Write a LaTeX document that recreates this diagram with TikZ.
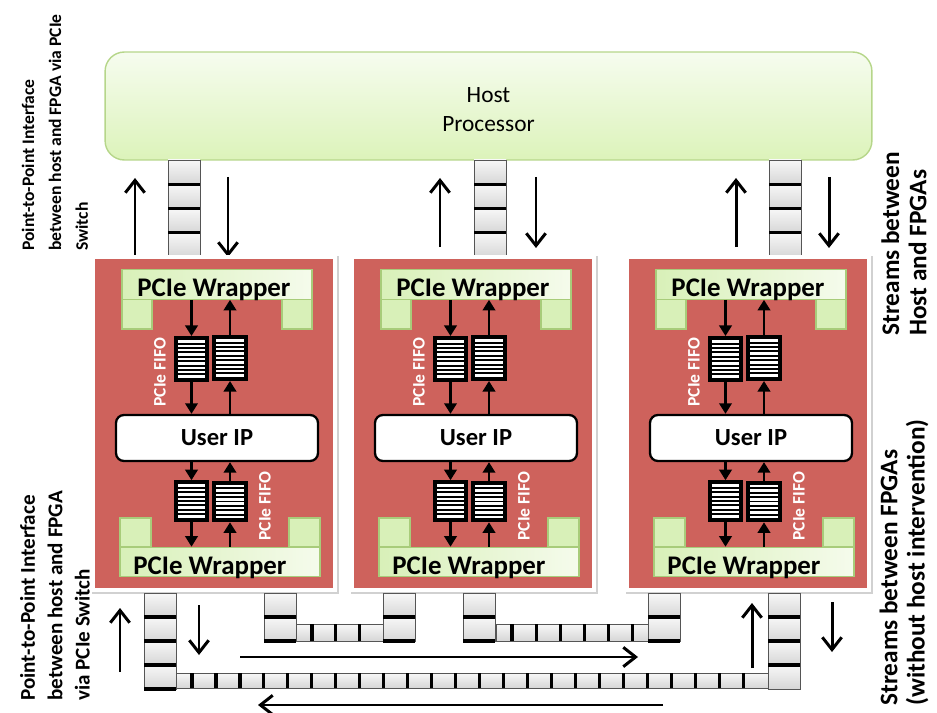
\documentclass[tikz,border=0pt]{standalone}
\usepackage{fontspec}
\setmainfont{Carlito}
\usetikzlibrary{arrows.meta}

\definecolor{fpgared}{RGB}{206,98,92}
\definecolor{hosttop}{RGB}{246,252,239}
\definecolor{hostbot}{RGB}{220,243,186}
\definecolor{hostline}{RGB}{182,214,138}
\definecolor{wraplite}{RGB}{245,251,236}
\definecolor{wrapgreen}{RGB}{216,240,184}
\definecolor{wrapline}{RGB}{168,204,122}
\definecolor{cellline}{RGB}{85,85,85}

\tikzset{
  hostbox/.style={draw=hostline, line width=0.8pt, top color=hosttop, bottom color=hostbot,
    rounded corners=11pt, minimum width=15.34cm, minimum height=2.16cm},
  hosttxt/.style={align=center, inner sep=0pt, font=\fontsize{13.3}{16.4}\selectfont},
  fpgabox/.style={fill=fpgared, draw=white, line width=2pt, minimum width=4.84cm,
    minimum height=6.66cm, inner sep=0pt},
  wrapbar/.style={draw=wrapline, line width=0.6pt, left color=wrapgreen, right color=wraplite,
    minimum height=0.59cm, inner sep=0pt},
  wrapleg/.style={draw=wrapline, line width=0.6pt, fill=wrapgreen},
  wraptxt/.style={font=\bfseries\fontsize{15.3}{18}\selectfont, inner sep=0pt},
  userip/.style={draw=black, line width=1.3pt, fill=white, rounded corners=4.5pt,
    minimum width=4.04cm, minimum height=0.92cm, font=\bfseries\fontsize{14}{16}\selectfont},
  fifo/.style={draw=black, fill=black, line width=1.1pt, minimum width=0.67cm,
    minimum height=(#1+1)*0.088cm, inner sep=0pt,
    path picture={\foreach \k in {1,...,#1}
      \draw[white, line width=1.4pt]
        ([xshift=0.06cm, yshift=-\k*0.088cm]path picture bounding box.north west) --
        ([xshift=-0.06cm, yshift=-\k*0.088cm]path picture bounding box.north east);}},
  fifotxt/.style={rotate=90, text=white, inner sep=0pt, font=\bfseries\fontsize{10}{12}\selectfont},
  cell/.style={draw=cellline, line width=0.5pt, top color=gray!6, bottom color=gray!32},
  qbar/.style={line width=1.8pt, line cap=butt},
  inarr/.style={line width=1.5pt, -{Triangle[length=6pt, width=7pt]}},
  outarr/.style={line width=1.7pt, -{Straight Barb[length=7pt, width=11pt]}},
  sidetxt/.style={rotate=90, anchor=west, align=left, inner sep=0pt}
}

\begin{document}
\begin{tikzpicture}[x=0.02cm, y=-0.02cm]
\useasboundingbox (0,0) rectangle (937,713);

% host
\node[hostbox] (host) at (488.5,106) {};
\node[hosttxt] (hostlbl) at (488.5,109.5) {Host\\Processor};

% host <-> FPGA streams
\foreach \qx in {168,474,769} {
  \foreach \k in {0,...,3} \draw[cell] (\qx,160+\k*24.25) rectangle ++(32,24.25);
  \foreach \k in {1,2,3} \draw[qbar] (\qx,160+\k*24.25) -- ++(32,0);
}
\draw[outarr] (135,257) -- (135,178);
\draw[outarr] (228,177) -- (228,257);
\draw[outarr] (440,247) -- (440,178);
\draw[outarr] (536,177) -- (536,248);
\draw[outarr] (736,247) -- (736,178);
\draw[outarr] (829,177) -- (829,248);

% FPGAs
\foreach \i/\L in {1/93,2/352,3/627} {
  \fill[black!18] (\L-1,256) rectangle (\L+245.5,593.5);
  \node[fpgabox] (fpga\i) at (\L+121,423.5) {};
  % top wrapper
  \draw[wrapleg] (\L+29,299) rectangle (\L+59,329);
  \draw[wrapleg] (\L+189,299) rectangle (\L+219,329);
  \node[wrapbar, minimum width=3.8cm] (wrapT\i) at (\L+124,284.5) {};
  \node[wraptxt] (wrapTtxt\i) at (\L+121,290) {PCIe Wrapper};
  % bottom wrapper
  \draw[wrapleg] (\L+27,518) rectangle (\L+58,547);
  \draw[wrapleg] (\L+196,518) rectangle (\L+227,547);
  \node[wrapbar, minimum width=4cm] (wrapB\i) at (\L+127,562) {};
  \node[wraptxt] (wrapBtxt\i) at (\L+117,568) {PCIe Wrapper};
  % user logic and fifos
  \node[userip] (uip\i) at (\L+124,438) {User IP};
  \node[fifo=9] (fifoTA\i) at (\L+98.5,359) {};
  \node[fifo=9] (fifoTB\i) at (\L+137,358) {};
  \node[fifo=8] (fifoBA\i) at (\L+98.5,501) {};
  \node[fifo=8] (fifoBB\i) at (\L+137,501.5) {};
  \node[fifotxt] (fifoTtxt\i) at (\L+67,372) {PCIe FIFO};
  \node[fifotxt] (fifoBtxt\i) at (\L+172,506) {PCIe FIFO};
  \draw[inarr] (wrapT\i.south -| fifoTA\i) -- (fifoTA\i.north);
  \draw[inarr] (fifoTA\i.south) -- (fifoTA\i.south |- uip\i.north);
  \draw[inarr] (fifoTB\i.south |- uip\i.north) -- (fifoTB\i.south);
  \draw[inarr] (fifoTB\i.north) -- (fifoTB\i.north |- wrapT\i.south);
  \draw[inarr] (uip\i.south -| fifoBA\i) -- (fifoBA\i.north);
  \draw[inarr] (fifoBA\i.south) -- (fifoBA\i.south |- wrapB\i.north);
  \draw[inarr] (wrapB\i.north -| fifoBB\i) -- (fifoBB\i.south);
  \draw[inarr] (fifoBB\i.north) -- (fifoBB\i.north |- uip\i.south);
}

% FPGA <-> FPGA streams
\draw[cell] (176,673) rectangle (768,688);
\foreach \k in {0,...,23} \draw[qbar] (192+\k*23.96,673) -- ++(0,15);
\draw[cell] (295,624) rectangle (383,641);
\foreach \k in {0,1,2} \draw[qbar] (312+\k*23.7,624) -- ++(0,17);
\draw[cell] (496,624) rectangle (648,641);
\foreach \k in {0,...,5} \draw[qbar] (512+\k*24.1,624) -- ++(0,17);
\foreach \qx in {144,768} {
  \foreach \k in {0,...,3} \draw[cell] (\qx,593+\k*24) rectangle ++(32,24);
  \foreach \k in {1,2,3} \draw[qbar] (\qx,593+\k*24) -- ++(32,0);
}
\draw[qbar] (144,689) -- (176,689);
\foreach \qx in {264,383,463,648} {
  \foreach \k in {0,1} \draw[cell] (\qx,593+\k*24) rectangle ++(32,24);
  \foreach \k in {1,2} \draw[qbar] (\qx,593+\k*24) -- ++(32,0);
}
\draw[outarr] (120,672) -- (120,608);
\draw[outarr] (199,605) -- (199,655);
\draw[outarr] (752,668) -- (752,603);
\draw[outarr] (832,602) -- (832,652);
\draw[outarr] (240,657) -- (638,657);
\draw[outarr] (663,705) -- (258,705);

% side notes
\node[sidetxt, font=\bfseries\fontsize{10}{15.3}\selectfont] (lefttop) at (55,251)
  {Point-to-Point Interface\\between host and FPGA via PCIe\\Switch};
\node[sidetxt, font=\bfseries\fontsize{12}{15.6}\selectfont] (leftbot) at (55,701)
  {Point-to-Point Interface\\between host and FPGA\\via PCIe Switch};
\node[sidetxt, font=\bfseries\fontsize{14.4}{15.5}\selectfont] (righttop) at (904,336)
  {Streams between\\Host and FPGAs};
\node[sidetxt, font=\bfseries\fontsize{14.4}{15.5}\selectfont] (rightbot) at (904,706)
  {Streams between FPGAs\\(without host intervention)};
\end{tikzpicture}
\end{document}
